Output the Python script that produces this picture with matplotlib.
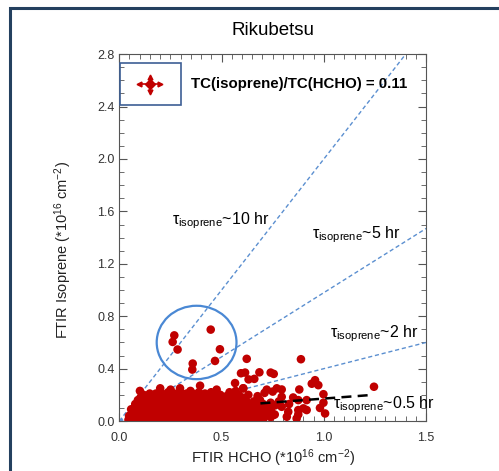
import matplotlib
matplotlib.use("Agg")
import matplotlib.pyplot as plt
from matplotlib.patches import Ellipse, Rectangle
from matplotlib.ticker import MultipleLocator, FormatStrFormatter

plt.rcParams['font.family'] = ['Liberation Sans', 'DejaVu Sans']
plt.rcParams['mathtext.fontset'] = 'custom'
plt.rcParams['mathtext.rm'] = 'Liberation Sans'
plt.rcParams['mathtext.it'] = 'Liberation Sans:italic'

# points inside the blue circle
circle_pts = [(0.269, 0.654), (0.261, 0.604), (0.285, 0.546), (0.447, 0.698),
              (0.492, 0.548), (0.468, 0.459), (0.359, 0.439), (0.357, 0.393)]

# dense cloud near the origin
cloud_pts = [
    (0.045, 0.01), (0.048, 0.04),
    (0.060, 0.02), (0.062, 0.06), (0.058, 0.09),
    (0.075, 0.01), (0.077, 0.05), (0.073, 0.09), (0.078, 0.13),
    (0.090, 0.03), (0.092, 0.07), (0.088, 0.11), (0.091, 0.16),
    (0.101, 0.23),
    (0.105, 0.01), (0.107, 0.05), (0.103, 0.09), (0.106, 0.13), (0.104, 0.18),
    (0.120, 0.03), (0.122, 0.07), (0.118, 0.12), (0.121, 0.16), (0.119, 0.20),
    (0.135, 0.01), (0.137, 0.05), (0.133, 0.10), (0.136, 0.14), (0.134, 0.19),
    (0.150, 0.03), (0.152, 0.08), (0.148, 0.12), (0.151, 0.17), (0.149, 0.21),
    (0.165, 0.01), (0.167, 0.06), (0.163, 0.10), (0.166, 0.15), (0.164, 0.19),
    (0.180, 0.03), (0.182, 0.08), (0.178, 0.13), (0.181, 0.17), (0.179, 0.21),
    (0.195, 0.01), (0.197, 0.05), (0.193, 0.10), (0.196, 0.15), (0.194, 0.19), (0.200, 0.25),
    (0.210, 0.03), (0.212, 0.08), (0.208, 0.12), (0.211, 0.17), (0.209, 0.21),
    (0.225, 0.01), (0.227, 0.06), (0.223, 0.10), (0.226, 0.14), (0.224, 0.19),
    (0.240, 0.03), (0.242, 0.08), (0.238, 0.13), (0.241, 0.17), (0.239, 0.22),
    (0.255, 0.01), (0.257, 0.05), (0.253, 0.10), (0.256, 0.15), (0.254, 0.20), (0.251, 0.24),
    (0.270, 0.03), (0.272, 0.07), (0.268, 0.12), (0.271, 0.17), (0.269, 0.21),
    (0.285, 0.01), (0.287, 0.06), (0.283, 0.10), (0.286, 0.14), (0.284, 0.19),
    (0.300, 0.03), (0.302, 0.08), (0.298, 0.13), (0.301, 0.17), (0.299, 0.22), (0.297, 0.25),
    (0.315, 0.01), (0.317, 0.05), (0.313, 0.10), (0.316, 0.15), (0.314, 0.20),
    (0.330, 0.03), (0.332, 0.07), (0.328, 0.12), (0.331, 0.17), (0.329, 0.21),
    (0.345, 0.01), (0.347, 0.06), (0.343, 0.10), (0.346, 0.14), (0.344, 0.19), (0.348, 0.23),
    (0.360, 0.03), (0.362, 0.08), (0.358, 0.13), (0.361, 0.17), (0.359, 0.21),
    (0.375, 0.01), (0.377, 0.05), (0.373, 0.10), (0.376, 0.15), (0.374, 0.20),
    (0.390, 0.03), (0.392, 0.07), (0.388, 0.12), (0.391, 0.17), (0.389, 0.22), (0.395, 0.27),
    (0.405, 0.01), (0.407, 0.06), (0.403, 0.10), (0.406, 0.14), (0.404, 0.19),
    (0.420, 0.03), (0.422, 0.08), (0.418, 0.13), (0.421, 0.17), (0.419, 0.21),
    (0.435, 0.01), (0.437, 0.05), (0.433, 0.10), (0.436, 0.15), (0.434, 0.20),
    (0.450, 0.03), (0.452, 0.07), (0.448, 0.12), (0.451, 0.17), (0.449, 0.22),
    (0.465, 0.01), (0.467, 0.06), (0.463, 0.10), (0.466, 0.14), (0.464, 0.19),
    (0.476, 0.24),
    (0.480, 0.03), (0.482, 0.08), (0.478, 0.13), (0.481, 0.17),
    (0.495, 0.01), (0.497, 0.05), (0.493, 0.10), (0.496, 0.15), (0.494, 0.20),
    (0.510, 0.03), (0.512, 0.07), (0.508, 0.12), (0.511, 0.17),
    (0.525, 0.01), (0.527, 0.06), (0.523, 0.10), (0.526, 0.14), (0.524, 0.19),
    (0.540, 0.03), (0.542, 0.08), (0.538, 0.13), (0.541, 0.17), (0.539, 0.22),
    (0.555, 0.01), (0.557, 0.05), (0.553, 0.10), (0.556, 0.15), (0.554, 0.19),
    (0.566, 0.29),
    (0.570, 0.03), (0.572, 0.07), (0.568, 0.12), (0.571, 0.17), (0.569, 0.23),
    (0.585, 0.01), (0.587, 0.06), (0.583, 0.10), (0.586, 0.14), (0.584, 0.20),
    (0.600, 0.03), (0.602, 0.08), (0.598, 0.13), (0.601, 0.18), (0.606, 0.25),
    (0.615, 0.01), (0.617, 0.05), (0.613, 0.11), (0.616, 0.16),
    (0.630, 0.03), (0.632, 0.08), (0.628, 0.14), (0.631, 0.20),
    (0.645, 0.02), (0.647, 0.06), (0.643, 0.11),
    (0.660, 0.04), (0.662, 0.09), (0.658, 0.15),
    (0.675, 0.01), (0.677, 0.06), (0.673, 0.12), (0.676, 0.19),
    (0.690, 0.03), (0.692, 0.09),
    (0.705, 0.02), (0.707, 0.07), (0.703, 0.13),
    (0.720, 0.05), (0.722, 0.10), (0.721, 0.24),
    (0.740, 0.03), (0.742, 0.08),
    (0.760, 0.05), (0.762, 0.12),
]

# scattered points to the right and above the cloud
sparse_pts = [
    (0.623, 0.475), (0.888, 0.472), (1.245, 0.262),
    (0.595, 0.365), (0.615, 0.370), (0.685, 0.372), (0.740, 0.370), (0.755, 0.360),
    (0.660, 0.322), (0.632, 0.318), (0.606, 0.250),
    (0.794, 0.241), (0.880, 0.241), (0.941, 0.285), (0.957, 0.312), (0.973, 0.274),
    (0.998, 0.205), (0.998, 0.140), (0.981, 0.100), (1.006, 0.058),
    (0.875, 0.160), (0.916, 0.160), (0.875, 0.084), (0.916, 0.084), (0.875, 0.050),
    (0.794, 0.185), (0.794, 0.109), (0.826, 0.071), (0.819, 0.033), (0.867, 0.020),
    (0.900, 0.097), (0.688, 0.160), (0.721, 0.084), (0.753, 0.046), (0.704, 0.020),
    (0.710, 0.215), (0.750, 0.225), (0.770, 0.250), (0.740, 0.140), (0.780, 0.150),
    (0.830, 0.130), (0.850, 0.180),
]

# lifetime reference lines (slope through origin) and labels
tau_slopes = [2.0, 0.98, 0.4]
tau_labels = ['10 hr', '5 hr', '2 hr', '0.5 hr']
tau_label_pos = [(0.256, 1.53), (0.944, 1.42), (1.03, 0.667), (1.047, 0.122)]
black_x = [0.69, 1.24]
black_y = [0.135, 0.200]

ratio_text = 'TC(isoprene)/TC(HCHO) = 0.11'

red = '#c00000'
blue = '#5b8fd0'

fig = plt.figure(figsize=(4.99, 4.71), dpi=100)
ax = fig.add_axes([0.239, 0.106, 0.615, 0.779])

all_pts = cloud_pts + sparse_pts + circle_pts
xs = [p[0] for p in all_pts]
ys = [p[1] for p in all_pts]
ax.scatter(xs, ys, s=38, color=red, edgecolors='none', zorder=3)

for k in tau_slopes:
    xe = min(1.5, 2.8 / k)
    ax.plot([0, xe], [0, k * xe], ls=(0, (3, 2)), color=blue, lw=1.0, zorder=2)

ax.plot(black_x, black_y, ls=(0, (4, 2.5)), color='black', lw=1.8, zorder=4)

for lab, (tx, ty) in zip(tau_labels, tau_label_pos):
    ax.text(tx, ty, r'$\mathregular{\tau_{isoprene}}$~' + lab, fontsize=11.5,
            va='center', ha='left', clip_on=False, zorder=5)

ax.add_patch(Ellipse((0.378, 0.6), 0.39, 0.56, fill=False, ec='#4a88d4', lw=1.6, zorder=4))

# legend-like box with the sample marker
ax.add_patch(Rectangle((0.002, 0.861), 0.2, 0.114, transform=ax.transAxes,
                       fill=False, ec='#3d5f95', lw=1.2, zorder=5))
ax.errorbar([0.149], [2.57], xerr=0.045, yerr=0.05, fmt='D', ms=5.5, color=red,
            ecolor=red, elinewidth=1.2, capsize=0, zorder=6)
ax.plot([0.098], [2.57], marker='<', ms=3.5, color=red, zorder=6)
ax.plot([0.200], [2.57], marker='>', ms=3.5, color=red, zorder=6)
ax.plot([0.149], [2.625], marker='^', ms=3.5, color=red, zorder=6)
ax.plot([0.149], [2.515], marker='v', ms=3.5, color=red, zorder=6)
ax.text(0.349, 2.57, ratio_text, fontsize=10.8, fontweight='bold', va='center', ha='left')

ax.set_xlim(0, 1.5)
ax.set_ylim(0, 2.8)
ax.xaxis.set_major_locator(MultipleLocator(0.5))
ax.xaxis.set_minor_locator(MultipleLocator(0.05))
ax.yaxis.set_major_locator(MultipleLocator(0.4))
ax.yaxis.set_minor_locator(MultipleLocator(0.1))
ax.xaxis.set_major_formatter(FormatStrFormatter('%.1f'))
ax.yaxis.set_major_formatter(FormatStrFormatter('%.1f'))
ax.tick_params(which='both', direction='in', top=True, right=True, color='#555555',
               labelsize=9, labelcolor='#333333')
ax.tick_params(axis='x', which='major', pad=8)
ax.tick_params(which='major', length=6)
ax.tick_params(which='minor', length=3.5)
for sp in ax.spines.values():
    sp.set_color('#555555')

ax.set_title('Rikubetsu', fontsize=13.5, pad=14)
ax.set_xlabel(r'FTIR HCHO (*10$^{16}$ cm$^{-2}$)', fontsize=10.5, color='#222222')
ax.set_ylabel(r'FTIR Isoprene (*10$^{16}$ cm$^{-2}$)', fontsize=10.5, color='#222222')
ax.xaxis.set_label_coords(0.5, -0.071)
ax.yaxis.set_label_coords(-0.148, 0.465)

# navy frame around the panel
fig.patches.append(Rectangle((0.021, -0.1), 1.2, 1.083, transform=fig.transFigure,
                             fill=False, ec='#24405f', lw=2.2))

fig.savefig('out.png', dpi=100)
